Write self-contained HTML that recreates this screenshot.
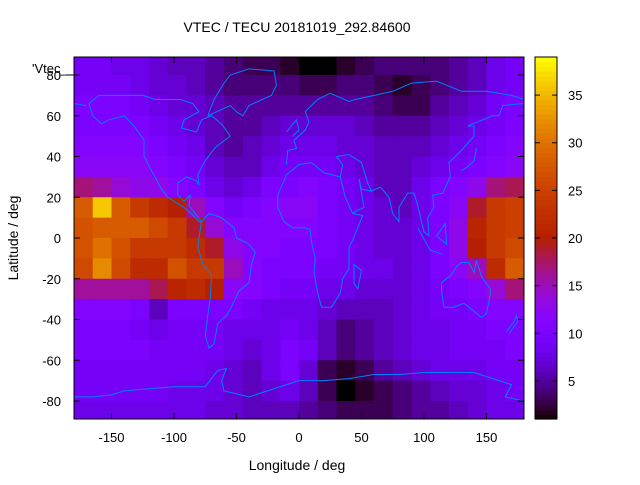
<!DOCTYPE html>
<html><head><meta charset="utf-8"><style>
body{margin:0;background:#fff}
svg{font-family:"Liberation Sans",Arial,sans-serif;font-size:13px}
</style></head><body>
<svg id="c" width="640" height="480" viewBox="0 0 640 480">
<rect width="640" height="480" fill="#fff"/>
<defs><clipPath id="pc"><rect x="74" y="57" width="450" height="362"/></clipPath></defs>
<g id="heat" clip-path="url(#pc)"></g>
<g id="coast" clip-path="url(#pc)" fill="none" stroke="#0080ff" stroke-width="1"></g>
<g id="cbar"></g>
<g id="axes"></g>
<text x="297" y="32" text-anchor="middle" font-size="14">VTEC / TECU 20181019_292.84600</text>
<text x="297" y="470" text-anchor="middle" font-size="14">Longitude / deg</text>
<text x="18" y="238" text-anchor="middle" font-size="14" transform="rotate(-90 18 238)">Latitude / deg</text>
<text x="32" y="73">'Vtec_</text>
<line x1="66" y1="75" x2="74" y2="75" stroke="#000"/>
</svg>
<script>
// data: rows from lat 90 (top) down to -90, 24 cols of 15deg from lon -180
const lonEdges=[-180,-165,-150,-135,-120,-105,-90,-75,-60,-45,-30,-15,0,15,30,45,60,75,90,105,120,135,150,165,180];
const latEdges=[90,80,70,60,50,40,30,20,10,0,-10,-20,-30,-40,-50,-60,-70,-80,-90];
const row0=[9,9,8,8,7,6,6,5,4,3,3,2,1,1,2,3,4,4,4,4,5,6,8,9];
const row1=[9,9,9,8,7,7,6,5,4,4,4,4,3,3,4,4,3,2,3,4,5,6,8,9];
const row2=[10,10,10,9,8,7,7,6,5,5,5,5,5,5,5,5,4,3,3,5,6,7,9,10];
const row3=[10,10,10,10,9,8,7,6,5,5,6,7,7,7,7,6,5,5,5,6,7,8,9,10];
const row4=[11,11,11,11,10,9,8,6,5,6,7,8,8,8,7,7,6,6,6,7,8,9,10,11];
const row5=[12,12,12,12,11,10,9,7,6,6,8,9,9,9,8,7,6,6,7,8,9,10,11,12];
const row6=[17,16,14,13,13,11,10,8,7,8,10,10,11,10,9,8,6,6,8,10,11,13,17,18];
const row7=[28,36,28,24,22,20,15,11,9,10,11,12,12,10,9,8,7,6,8,10,12,19,24,25];
const row8=[27,28,28,28,26,24,19,14,11,11,11,11,11,10,9,8,7,7,8,10,13,21,24,25];
const row9=[27,30,27,24,24,24,22,19,13,11,11,10,10,10,9,8,7,7,8,10,13,20,24,26];
const row10=[26,32,26,22,22,27,24,24,15,11,10,10,10,9,9,8,8,7,8,10,12,15,22,28];
const row11=[16,16,16,16,18,21,22,20,12,11,10,9,9,8,8,7,7,7,8,9,10,11,14,17];
const row12=[11,11,11,10,6,10,10,10,10,9,8,8,8,7,6,6,6,7,8,9,9,10,11,11];
const row13=[10,10,10,9,8,9,9,9,8,8,8,9,8,6,4,5,6,7,8,8,9,9,10,10];
const row14=[10,10,10,10,9,9,9,9,8,7,8,10,9,6,4,5,6,7,8,8,9,9,9,10];
const row15=[9,9,9,9,9,9,9,8,7,6,8,10,7,3,2,3,5,6,7,8,8,8,9,9];
const row16=[9,9,9,9,9,8,8,8,7,6,7,8,6,3,1,2,3,4,5,6,7,7,8,9];
const row17=[8,8,8,8,8,8,8,7,7,6,6,6,5,4,3,3,3,4,5,5,6,7,8,8];
const rows=[row0,row1,row2,row3,row4,row5,row6,row7,row8,row9,row10,row11,row12,row13,row14,row15,row16,row17];
const xTicks=[-150,-100,-50,0,50,100,150];
const yTicks=[-80,-60,-40,-20,0,20,40,60,80];
const cTicks=[5,10,15,20,25,30,35];
const cMin=1,cMax=39;

const NS='http://www.w3.org/2000/svg';
const X0=74,X1=524,Y0=57,Y1=419;
const sx=l=>X0+(l+180)/360*(X1-X0);
const sy=l=>238-l*2.0375;
const cy=v=>Y1-(v-cMin)/(cMax-cMin)*(Y1-Y0);
function pal(v){let x=Math.max(0,Math.min(1,(v-cMin)/(cMax-cMin)));
 const r=Math.sqrt(x),g=x*x*x,b=Math.max(0,Math.sin(2*Math.PI*x));
 return `rgb(${Math.round(r*255)},${Math.round(g*255)},${Math.round(b*255)})`;}
function mk(t,a,p){const e=document.createElementNS(NS,t);for(const k in a)e.setAttribute(k,a[k]);p.appendChild(e);return e;}
const heat=document.getElementById('heat');
rows.forEach((r,i)=>r.forEach((v,j)=>{
 const x=sx(lonEdges[j]),y=sy(latEdges[i]);
 const e=mk('rect',{x:x,y:y,width:sx(lonEdges[j+1])-x+0.5,height:sy(latEdges[i+1])-y+0.5,fill:pal(v)},heat);
 
 
}));
// coastlines (approximate)
const coasts=[
 [[-168,66],[-160,70],[-140,70],[-125,70],[-115,68],[-95,68],[-85,66],[-80,62],[-92,58],[-94,54],[-82,52],[-78,58],[-70,60],[-62,56],[-55,50],[-66,45],[-70,42],[-76,37],[-81,31],[-80,26],[-82,28],[-90,30],[-97,27],[-97,21],[-92,18],[-87,21],[-88,16],[-83,12],[-78,8],[-80,8],[-86,12],[-92,15],[-105,20],[-110,24],[-117,32],[-124,40],[-124,48],[-132,55],[-140,60],[-152,58],[-158,56],[-165,60],[-168,66]],
 [[-78,8],[-72,12],[-62,10],[-52,5],[-50,0],[-40,-3],[-35,-7],[-38,-13],[-40,-22],[-48,-26],[-55,-35],[-58,-38],[-65,-42],[-68,-52],[-72,-54],[-75,-48],[-73,-38],[-71,-30],[-70,-18],[-76,-14],[-81,-5],[-80,0],[-78,8]],
 [[-17,21],[-17,15],[-12,8],[-5,5],[5,5],[9,4],[10,-2],[13,-10],[12,-17],[15,-27],[18,-34],[26,-34],[33,-27],[35,-20],[40,-15],[40,-5],[45,2],[51,11],[43,12],[37,20],[33,30],[20,32],[10,37],[0,36],[-10,31],[-17,21]],
 [[-10,36],[-9,43],[-2,44],[-4,48],[5,53],[8,57],[5,62],[15,68],[25,71],[40,67],[45,68],[60,70],[75,72],[90,76],[110,77],[130,72],[150,72],[170,70],[180,68]],
 [[-180,66],[-170,65]],
 [[33,30],[35,36],[30,40],[40,41],[50,37],[55,27],[58,23],[50,24],[48,29],[52,15],[45,13],[43,12]],
 [[58,23],[65,25],[68,23],[72,20],[75,12],[80,8],[80,15],[87,22],[92,22],[95,16],[98,8],[100,3],[104,1],[103,10],[108,15],[107,21],[115,22],[121,30],[120,37],[125,40],[130,43],[140,50],[140,55],[135,55],[155,60],[160,60],[163,65],[180,66]],
 [[114,-22],[114,-26],[116,-34],[124,-34],[132,-32],[138,-35],[146,-39],[150,-37],[153,-28],[153,-25],[146,-19],[142,-11],[140,-17],[136,-12],[130,-12],[126,-14],[122,-18],[114,-22]],
 [[-73,60],[-68,68],[-60,76],[-55,80],[-40,83],[-20,82],[-18,75],[-22,70],[-40,65],[-45,60],[-50,62],[-55,65],[-73,60]],
 [[-180,-78],[-165,-78],[-150,-77],[-140,-75],[-120,-74],[-100,-73],[-75,-73],[-65,-65],[-58,-64],[-62,-70],[-60,-75],[-40,-78],[-20,-74],[0,-70],[20,-70],[40,-69],[60,-67],[80,-67],[100,-66],[120,-66],[140,-66],[160,-70],[170,-72],[165,-78],[180,-80]],
 [[95,5],[105,-6],[115,-8]],[[110,1],[117,7],[118,-3],[110,1]],[[130,33],[135,35],[140,38],[142,44]],
 [[44,-13],[50,-16],[47,-25],[44,-22],[44,-13]],[[166,-46],[172,-41],[174,-38],[175,-41],[168,-47]],
 [[-10,52],[-6,55],[-2,58],[0,53],[-5,50]]
];
const coast=document.getElementById('coast');
coasts.forEach(c=>{const e=mk('polyline',{points:c.map(p=>sx(p[0])+','+sy(p[1])).join(' ')},coast);
 
 });
// colorbar
const cb=document.getElementById('cbar');
const N=76;
for(let i=0;i<N;i++){const v0=cMin+(cMax-cMin)*i/N,v1=cMin+(cMax-cMin)*(i+1)/N;
 const e=mk('rect',{x:535,y:cy(v1),width:22,height:cy(v0)-cy(v1)+0.6,fill:pal((v0+v1)/2)},cb);
 
 }
mk('rect',{x:535,y:Y0,width:22,height:Y1-Y0,fill:'none',stroke:'#000'},cb);
cTicks.forEach(t=>{const y=cy(t);
 mk('line',{x1:535,y1:y,x2:540,y2:y,stroke:'#000'},cb);mk('line',{x1:552,y1:y,x2:557,y2:y,stroke:'#000'},cb);
 const e=mk('text',{x:568,y:y+5},cb);e.textContent=t;
 
 });
// axes
const ax=document.getElementById('axes');
mk('rect',{x:X0,y:Y0,width:X1-X0,height:Y1-Y0,fill:'none',stroke:'#000'},ax);
xTicks.forEach(t=>{const x=sx(t);
 mk('line',{x1:x,y1:Y1,x2:x,y2:Y1-6,stroke:'#000'},ax);mk('line',{x1:x,y1:Y0,x2:x,y2:Y0+6,stroke:'#000'},ax);
 const e=mk('text',{x:x,y:442,'text-anchor':'middle'},ax);e.textContent=t;
 
 });
yTicks.forEach(t=>{const y=sy(t);
 mk('line',{x1:X0,y1:y,x2:X0+6,y2:y,stroke:'#000'},ax);mk('line',{x1:X1,y1:y,x2:X1-6,y2:y,stroke:'#000'},ax);
 const e=mk('text',{x:61,y:y+5,'text-anchor':'end'},ax);e.textContent=t;
 
 });
</script>
</body></html>
